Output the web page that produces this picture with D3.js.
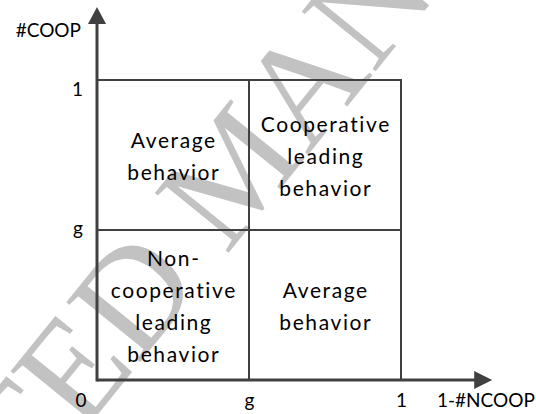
<!DOCTYPE html>
<html>
<head>
<meta charset="utf-8">
<script src="https://cdn.jsdelivr.net/npm/d3@7"></script>
<style>
  body { margin: 0; background: #fff; }
  svg { display: block; font-family: Lato, "Open Sans", sans-serif; }
</style>
</head>
<body>
<div id="chart"></div>
<script>
// threshold g and the axis ticks
const gValue = 0.5;
const xTickValues = [0.5, 1];
const xTickLabels = ["g", "1"];
const yTickValues = [0.5, 1];
const yTickLabels = ["g", "1"];
const originLabel = "0";
const xAxisLabel = "1-#NCOOP";
const yAxisLabel = "#COOP";

// quadrants: lower-left corner (x, y) in data units, and the text in each
const quadX = [0, 0.5, 0, 0.5];
const quadY = [0.5, 0.5, 0, 0];
const quadText = [
  ["Average", "behavior"],
  ["Cooperative", "leading", "behavior"],
  ["Non-", "cooperative", "leading", "behavior"],
  ["Average", "behavior"]
];

const watermarkLeft = "ACCEPTED";
const watermarkRight = "MANUSCRIPT";

const W = 536, H = 414;
const lineColor = "#404040";

const svg = d3.select("#chart").append("svg")
  .attr("width", W)
  .attr("height", H);

const x = d3.scaleLinear().domain([0, 1]).range([97, 401]);
const y = d3.scaleLinear().domain([0, 1]).range([380, 80]);
const xEnd = 1.3, yEnd = 1.243;

// watermark behind everything
const wm = svg.append("g")
  .attr("transform", "translate(226,256) rotate(-51)")
  .style("font-family", "'Liberation Serif', 'DejaVu Serif', serif")
  .style("font-size", "145px")
  .attr("fill", "#c2c2c2");
wm.append("text").attr("x", -36).attr("text-anchor", "end").text(watermarkLeft);
wm.append("text").attr("x", 0).attr("text-anchor", "start").text(watermarkRight);

// inner grid lines (g and 1)
const grid = svg.append("g").attr("stroke", lineColor).attr("stroke-width", 2);
[gValue, 1].forEach(v => {
  grid.append("line")
    .attr("x1", x(v)).attr("x2", x(v))
    .attr("y1", y(0)).attr("y2", y(1) - 1);
  grid.append("line")
    .attr("x1", x(0)).attr("x2", x(1) + 1)
    .attr("y1", y(v)).attr("y2", y(v));
});

// main axes with arrow heads
const axes = svg.append("g");
axes.append("line")
  .attr("x1", x(0)).attr("x2", x(xEnd) - 10)
  .attr("y1", y(0)).attr("y2", y(0))
  .attr("stroke", lineColor).attr("stroke-width", 3);
axes.append("line")
  .attr("x1", x(0)).attr("x2", x(0))
  .attr("y1", y(0) + 1.5).attr("y2", y(yEnd) + 10)
  .attr("stroke", lineColor).attr("stroke-width", 3);
axes.append("path")
  .attr("d", `M${x(xEnd)},${y(0)} L${x(xEnd) - 18},${y(0) - 9} L${x(xEnd) - 18},${y(0) + 9} Z`)
  .attr("fill", lineColor);
axes.append("path")
  .attr("d", `M${x(0)},${y(yEnd)} L${x(0) - 9},${y(yEnd) + 17} L${x(0) + 9},${y(yEnd) + 17} Z`)
  .attr("fill", lineColor);

// tick labels through d3 axes
const xAxis = svg.append("g")
  .attr("transform", "translate(0," + y(0) + ")")
  .call(d3.axisBottom(x)
    .tickValues(xTickValues)
    .tickFormat((d, i) => xTickLabels[i])
    .tickSize(0)
    .tickPadding(14));
const yAxis = svg.append("g")
  .attr("transform", "translate(" + x(0) + ",0)")
  .call(d3.axisLeft(y)
    .tickValues(yTickValues)
    .tickFormat((d, i) => yTickLabels[i])
    .tickSize(0)
    .tickPadding(14));
svg.selectAll(".domain").remove();
svg.selectAll(".tick text")
  .style("font-family", "Lato, sans-serif")
  .style("font-size", "19px")
  .attr("fill", "#000");
yAxis.selectAll(".tick text").attr("dy", d => (d === 1 ? "0.84em" : "0.25em"));
xAxis.selectAll(".tick text").attr("dy", "0.71em");

const labelStyle = sel => sel.style("font-size", "19px").attr("fill", "#000");
svg.append("text")
  .attr("x", x(0) - 16).attr("y", y(0) + 27)
  .attr("text-anchor", "middle")
  .call(labelStyle)
  .text(originLabel);
svg.append("text")
  .attr("x", x(0) - 16).attr("y", y(yEnd) + 30)
  .attr("text-anchor", "end")
  .call(labelStyle)
  .text(yAxisLabel);
svg.append("text")
  .attr("x", x(1) + 36).attr("y", y(0) + 27)
  .attr("text-anchor", "start")
  .call(labelStyle)
  .text(xAxisLabel);

// quadrant texts
const lineH = 31.7;
quadText.forEach((lines, q) => {
  const cx = x(quadX[q] + gValue / 2 + (quadX[q] === 0 ? 0 : (1 - gValue - gValue) / 2));
  const cy = y(quadY[q] + gValue / 2);
  const t = svg.append("text")
    .attr("text-anchor", "middle")
    .style("font-size", "21px")
    .style("letter-spacing", "1.6px")
    .attr("fill", "#000");
  lines.forEach((s, i) => {
    t.append("tspan")
      .attr("x", cx + 0.8)
      .attr("y", cy + 9 + (i - (lines.length - 1) / 2) * lineH)
      .text(s);
  });
});
</script>
</body>
</html>
